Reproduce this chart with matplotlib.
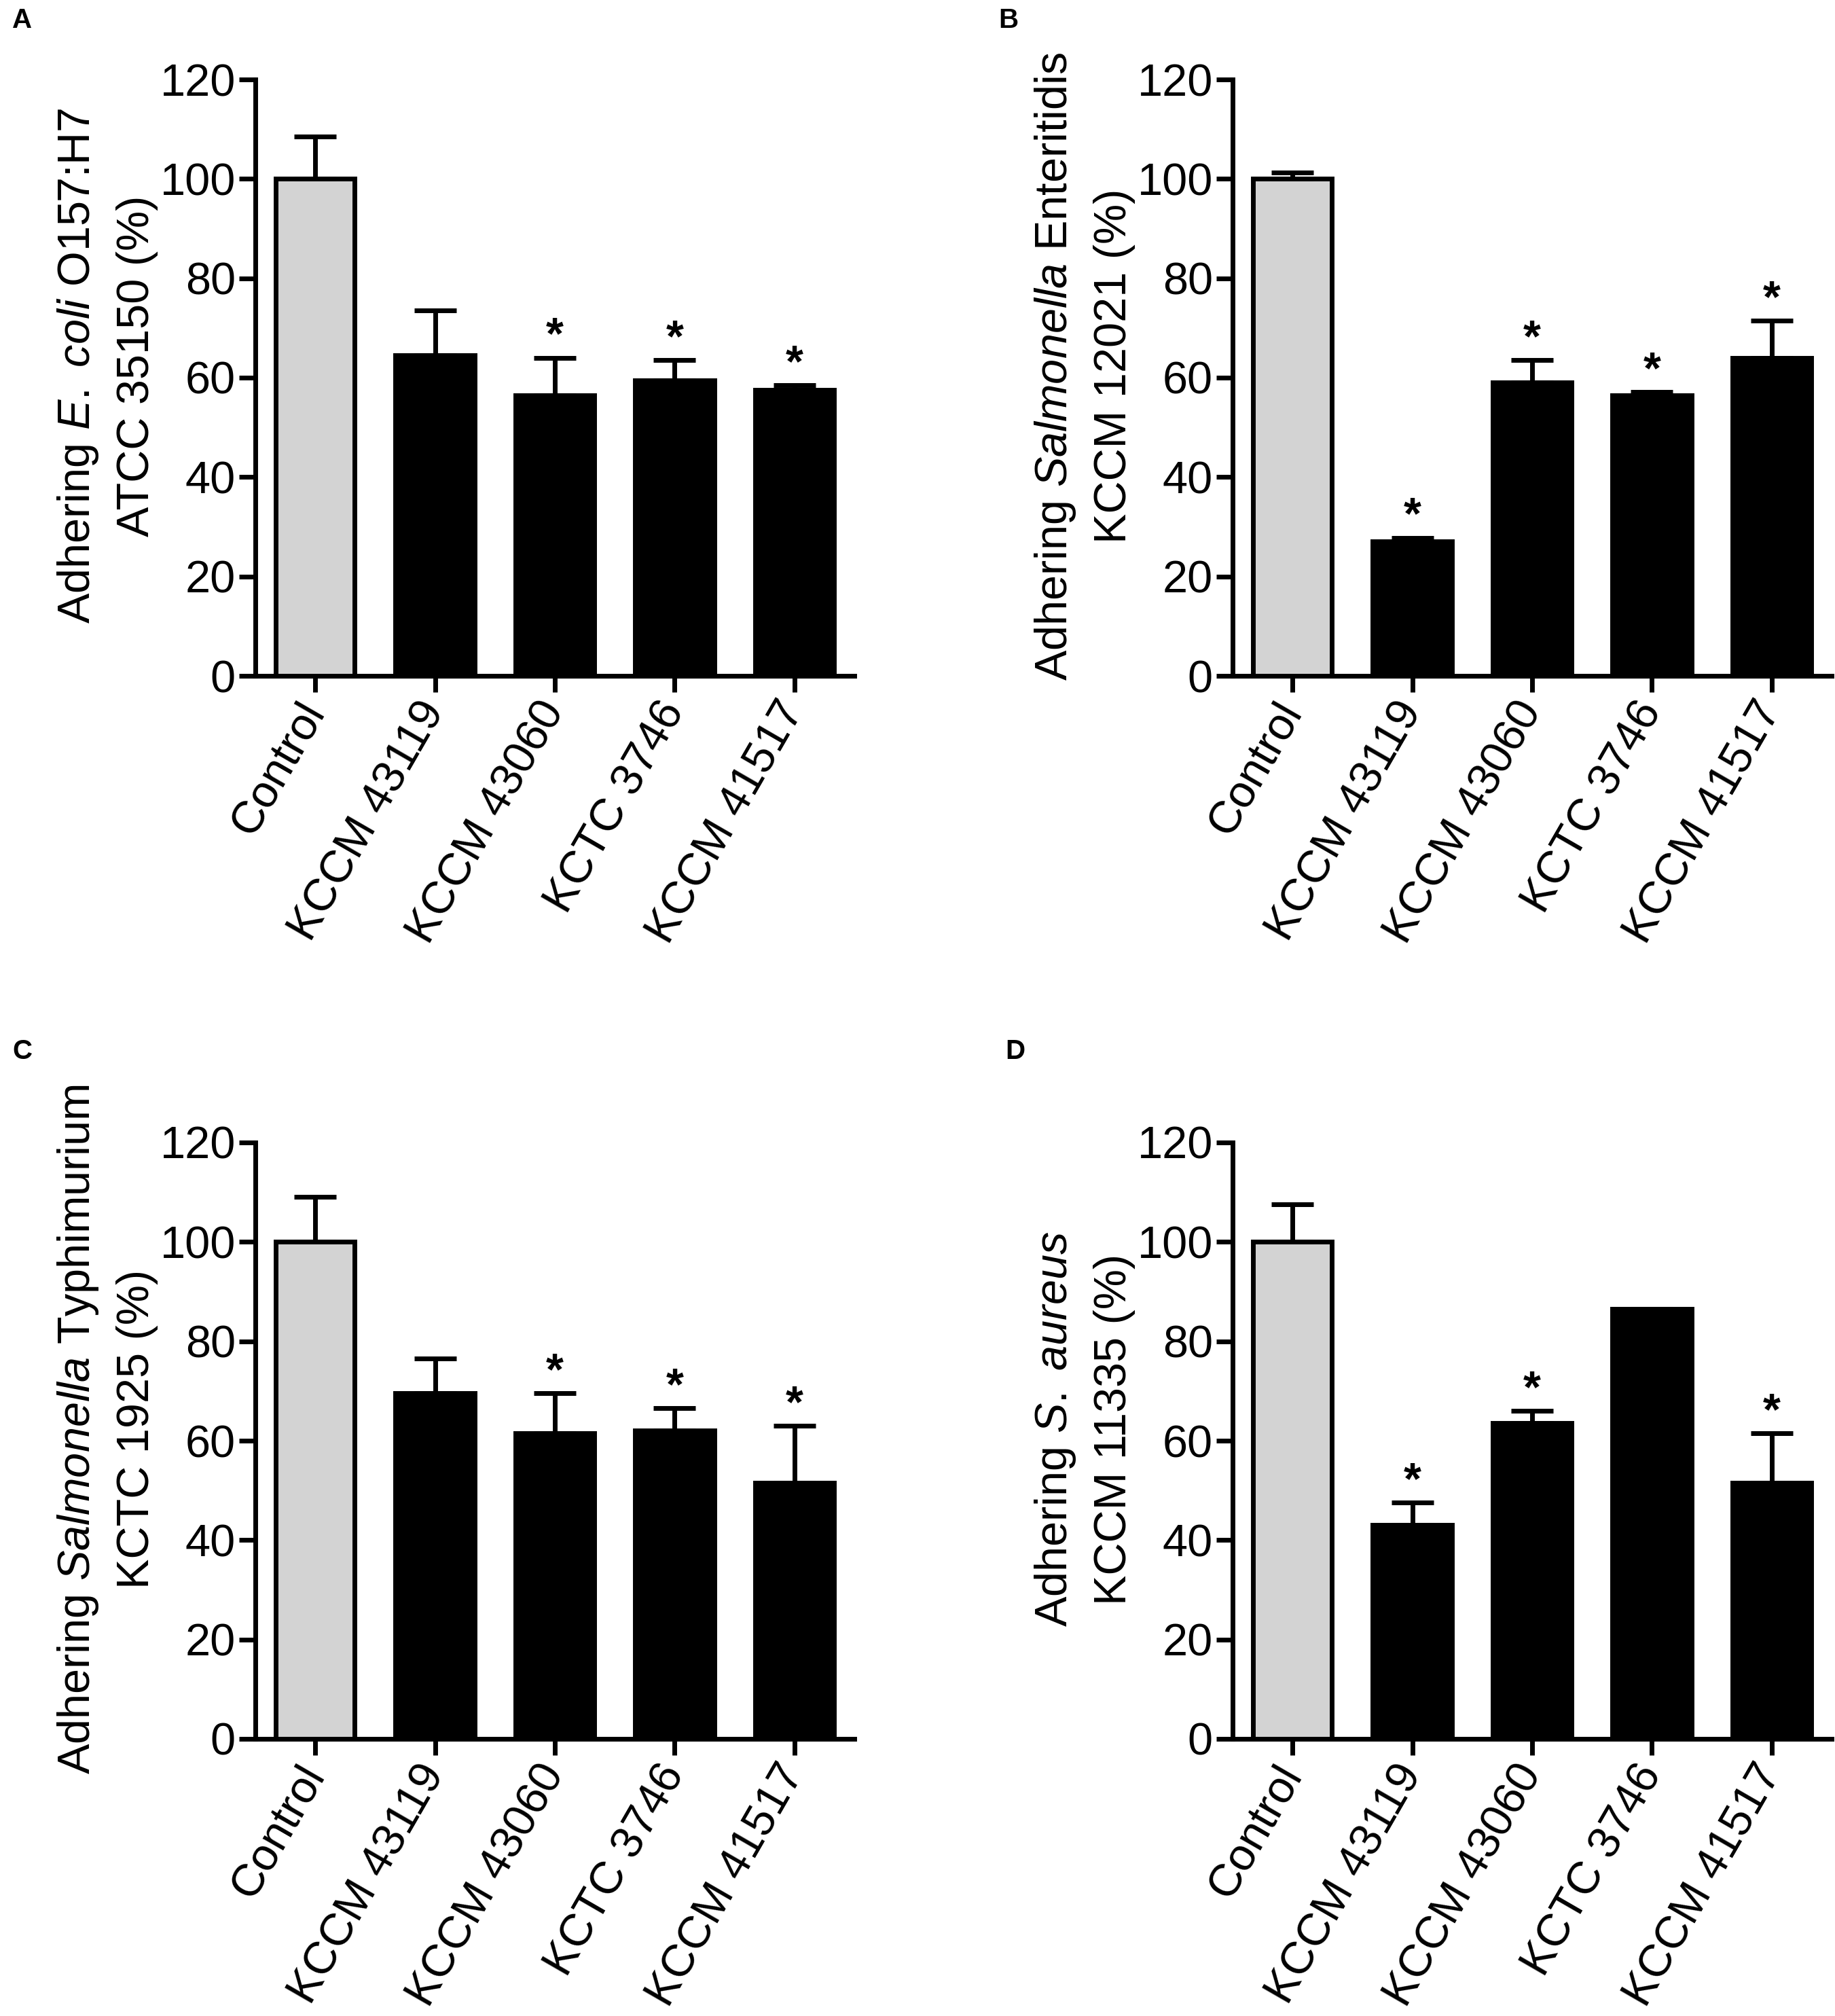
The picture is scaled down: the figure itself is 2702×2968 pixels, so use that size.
import matplotlib.pyplot as plt
import numpy as np

plt.rcParams['font.family'] = ['Liberation Sans', 'DejaVu Sans']
plt.rcParams['mathtext.fontset'] = 'custom'
plt.rcParams['mathtext.rm'] = 'Liberation Sans'
plt.rcParams['mathtext.it'] = 'Liberation Sans:italic'

groups = ["Control", "KCCM 43119", "KCCM 43060", "KCTC 3746", "KCCM 41517"]

# mean adhesion (%) and upper error (SD) for each panel
vals_a = [100, 64.5, 56.5, 59.5, 57.5]
err_a = [8.5, 9.0, 7.5, 4.0, 1.0]
star_a = [False, False, True, True, True]

vals_b = [100, 27, 59, 56.5, 64]
err_b = [1.3, 0.8, 4.5, 0.6, 7.5]
star_b = [False, True, True, True, True]

vals_c = [100, 69.5, 61.5, 62, 51.5]
err_c = [9.0, 7.0, 8.0, 4.5, 11.5]
star_c = [False, False, True, True, True]

vals_d = [100, 43, 63.5, 86.5, 51.5]
err_d = [7.5, 4.5, 2.5, 0.0, 10.0]
star_d = [False, True, True, False, True]

ylabels = [
    (r"Adhering $\mathit{E.}$ $\mathit{coli}$ O157:H7", "ATCC 35150 (%)"),
    (r"Adhering $\mathit{Salmonella}$ Enteritidis", "KCCM 12021 (%)"),
    (r"Adhering $\mathit{Salmonella}$ Typhimurium", "KCTC 1925 (%)"),
    (r"Adhering $\mathit{S.}$ $\mathit{aureus}$", "KCCM 11335 (%)"),
]
letters = ["A", "B", "C", "D"]

W, H = 2702, 2968
fig = plt.figure(figsize=(W / 100, H / 100), dpi=100)

# axes boxes in pixels: left, top
boxes = [(376, 117), (1815, 117), (376, 1682), (1815, 1682)]
letter_pos = [(18, 30), (1470, 30), (18, 1548), (1480, 1548)]
ax_w, ax_h = 882, 878

data = [(vals_a, err_a, star_a), (vals_b, err_b, star_b),
        (vals_c, err_c, star_c), (vals_d, err_d, star_d)]

fs = 48
lw = 5
x = np.arange(len(groups))

for i, (vals, errs, stars) in enumerate(data):
    left, top = boxes[i]
    ax = fig.add_axes([left / W, 1 - (top + ax_h) / H, ax_w / W, ax_h / H])
    colors = ['#d3d3d3'] + ['black'] * 4
    ax.bar(x, vals, width=0.66, color=colors, edgecolor='black', linewidth=lw, zorder=2)
    ax.errorbar(x, vals, yerr=[np.zeros(len(vals)), errs], fmt='none', ecolor='black',
                elinewidth=lw, capsize=22, capthick=lw, zorder=3)
    for j in range(len(vals)):
        if stars[j]:
            ax.text(x[j], vals[j] + errs[j] + 1.8, "*", ha='center', va='baseline',
                    fontsize=fs, fontweight='bold')

    ax.set_xlim(-0.5, 4.5)
    ax.set_ylim(0, 120)
    ax.set_yticks(range(0, 121, 20))
    ax.set_xticks(x)
    ax.set_xticklabels(groups, rotation=60, ha='right', va='center', rotation_mode='anchor')
    for s in ['top', 'right']:
        ax.spines[s].set_visible(False)
    for s in ['left', 'bottom']:
        ax.spines[s].set_linewidth(lw)
    ax.tick_params(axis='both', length=17, width=lw, labelsize=fs, pad=4)
    ax.tick_params(axis='x', pad=14)

    l1, l2 = ylabels[i]
    cy = 1 - (top + ax_h / 2 - 17) / H
    fig.text((left - 261) / W, cy, l1, rotation=90, ha='center', va='center', fontsize=fs)
    fig.text((left - 174) / W, cy, l2, rotation=90, ha='center', va='center', fontsize=fs)

    lx, ly = letter_pos[i]
    fig.text(lx / W, 1 - ly / H, letters[i], ha='left', va='center', fontsize=29,
             fontweight='bold')

plt.savefig("out.png", dpi=100)
